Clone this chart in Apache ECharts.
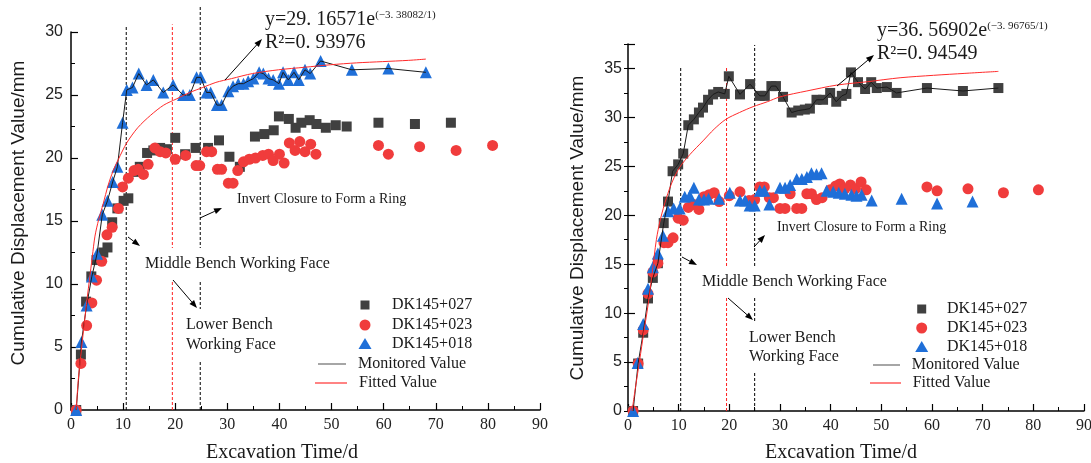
<!DOCTYPE html>
<html>
<head>
<meta charset="utf-8">
<title>Cumulative displacement</title>
<script src="https://cdn.jsdelivr.net/npm/echarts@6/dist/echarts.min.js"></script>
<style>
html, body { margin: 0; padding: 0; background: #fff; }
#chart { width: 1091px; height: 463px; }
</style>
</head>
<body>
<div id="chart"></div>
<script>
// ---- tick labels ----
var xTicks = [0, 10, 20, 30, 40, 50, 60, 70, 80, 90];
var leftYTicks = [0, 5, 10, 15, 20, 25, 30];
var rightYTicks = [0, 5, 10, 15, 20, 25, 30, 35];

// ---- left panel (fit on DK145+018) ----
var leftT027 = [1, 1.9, 2.9, 3.9, 4.9, 6.2, 7.0, 7.9, 8.9, 10.1, 11.0, 12.3, 13.2, 14.6, 15.8, 17.1, 18.4, 20.0, 21.9, 23.9, 26.3, 28.4, 30.4, 32.4, 35.3, 37.1, 38.9, 39.9, 41.8, 43.1, 44.2, 45.8, 47.1, 48.9, 50.8, 52.9, 59.0, 66.0, 72.9];
var leftY027 = [0, 4.4, 8.6, 10.6, 11.9, 12.5, 12.9, 14.9, 16.0, 16.6, 16.8, 18.9, 19.3, 20.4, 20.6, 20.8, 20.7, 21.6, 20.3, 20.8, 20.8, 21.4, 20.1, 19.3, 21.7, 21.9, 22.2, 23.3, 23.1, 22.4, 22.8, 23.0, 22.7, 22.4, 22.6, 22.5, 22.8, 22.7, 22.8];

var leftT023 = [1, 1.9, 3.0, 4.0, 4.9, 5.9, 6.9, 7.9, 9.1, 9.9, 11.0, 12.1, 12.9, 13.9, 14.8, 16.1, 17.1, 18.2, 20.0, 22.0, 24.0, 24.7, 26.0, 27.0, 28.1, 28.9, 30.2, 31.1, 32.0, 33.1, 34.2, 35.4, 36.8, 37.9, 38.8, 40.0, 40.9, 41.9, 43.0, 43.9, 44.9, 46.0, 47.0, 59.0, 60.9, 66.9, 73.9, 80.9];
var leftY023 = [0, 3.7, 6.7, 8.5, 10.3, 11.8, 13.9, 14.5, 16.0, 17.7, 18.4, 19.0, 19.1, 18.7, 19.5, 20.8, 20.5, 20.4, 19.9, 20.2, 19.4, 19.4, 20.5, 20.5, 19.1, 19.1, 18.0, 18.0, 19.0, 19.7, 19.9, 20.0, 20.2, 20.3, 19.8, 20.3, 19.6, 21.2, 20.6, 21.3, 20.5, 21.1, 20.3, 21.0, 20.3, 20.9, 20.6, 21.0];

var leftT018 = [1, 2, 3, 4, 5, 6, 7, 8, 8.9, 9.9, 10.7, 11.8, 13.0, 14.5, 15.8, 17.7, 19.6, 21.5, 22.8, 24.1, 24.9, 26.0, 26.8, 28.0, 28.9, 30.2, 31.1, 32.1, 33.1, 34.0, 35.0, 36.1, 36.9, 37.9, 38.8, 39.9, 40.7, 41.7, 42.8, 43.7, 44.9, 45.9, 47.9, 53.9, 60.9, 68.1];
var leftY018 = [0, 5.4, 8.3, 10.6, 12.4, 15.5, 16.6, 18.1, 19.3, 22.8, 25.4, 25.6, 26.7, 25.8, 26.2, 25.2, 25.8, 25.0, 25.0, 26.4, 26.4, 25.2, 25.2, 24.2, 24.2, 25.3, 25.7, 25.9, 25.9, 26.1, 26.3, 26.8, 26.7, 26.3, 26.2, 25.9, 26.8, 26.2, 26.8, 26.2, 27.0, 26.7, 27.7, 27.0, 27.1, 26.8];

var leftFitT = [1.0, 1.4, 2.0, 2.8, 3.5, 4.1, 4.6, 5.3, 6.2, 7.1, 8.1, 9.1, 10.7, 12.8, 15.3, 17.8, 20.3, 22.8, 25.3, 27.8, 30.8, 34.8, 39.8, 44.8, 49.8, 54.8, 59.8, 64.8, 68.1];
var leftFitY = [0, 2.4, 4.8, 7.8, 10.2, 12.2, 13.8, 15.1, 16.4, 17.8, 19.0, 19.9, 21.2, 22.4, 23.4, 24.2, 24.7, 25.2, 25.6, 26.0, 26.3, 26.7, 27.0, 27.2, 27.4, 27.55, 27.65, 27.75, 27.85];

var leftStages = [10.6, 19.45, 24.8];
var leftStageTops = [30.5, 30.6, 32.1];

// ---- right panel (fit on DK145+027) ----
var rightT027 = [1, 2, 3, 3.95, 4.9, 5.9, 7.05, 7.9, 8.8, 9.9, 10.9, 11.9, 13.0, 14.0, 14.8, 15.8, 16.8, 17.8, 19.1, 19.9, 22.1, 24.1, 26.0, 27.0, 28.3, 29.2, 30.6, 32.3, 33.6, 34.9, 35.9, 37.2, 38.5, 39.9, 41.1, 42.2, 43.1, 44.0, 45.4, 46.8, 48.0, 49.1, 51.1, 53.0, 59.0, 66.1, 73.1];
var rightY027 = [0, 4.85, 8.0, 11.5, 13.6, 15.1, 19.2, 21.4, 24.5, 25.2, 26.3, 29.2, 29.8, 30.5, 31.0, 31.8, 32.35, 32.6, 32.4, 34.2, 32.35, 33.4, 32.2, 32.2, 33.2, 33.2, 32.1, 30.5, 30.7, 30.8, 30.9, 31.8, 31.8, 32.5, 31.6, 32.2, 32.4, 34.6, 33.6, 32.9, 33.6, 33.0, 33.1, 32.5, 33.0, 32.7, 33.0];

var rightT023 = [1, 2, 3, 3.95, 4.9, 5.9, 7.1, 7.9, 8.9, 9.9, 10.9, 11.9, 13.0, 14.0, 15.0, 16.0, 17.0, 18.0, 20.0, 22.1, 23.9, 25.0, 26.0, 26.9, 27.9, 28.7, 30.0, 31.0, 32.0, 33.3, 34.3, 35.3, 36.2, 37.2, 38.3, 39.9, 41.0, 41.8, 42.8, 43.9, 44.9, 46.0, 47.0, 59.0, 61.0, 67.1, 74.1, 81.0];
var rightY023 = [0, 4.85, 8.3, 12.0, 14.2, 15.1, 17.2, 17.2, 17.7, 19.7, 19.5, 20.8, 21.1, 20.6, 21.9, 22.1, 22.3, 21.4, 22.0, 22.4, 21.5, 21.6, 22.9, 22.9, 21.8, 21.8, 20.7, 20.7, 22.2, 20.7, 20.7, 22.2, 22.2, 21.6, 21.8, 22.6, 23.0, 23.2, 22.7, 23.1, 22.7, 23.4, 22.6, 22.9, 22.5, 22.7, 22.3, 22.6];

var rightT018 = [1, 1.9, 3, 3.95, 4.9, 5.9, 6.9, 7.9, 9.0, 10.2, 11.2, 12.2, 13.0, 14.0, 15.0, 15.9, 18.0, 20.1, 22.1, 23.1, 24.0, 25.0, 26.0, 26.9, 27.9, 30.0, 31.0, 32.0, 33.3, 34.3, 35.3, 36.2, 37.2, 38.2, 39.2, 40.5, 41.6, 42.8, 44.1, 45.1, 46.1, 48.1, 54.0, 61.0, 68.0];
var rightY018 = [0, 4.9, 8.9, 12.5, 14.7, 16.1, 17.9, 20.4, 20.7, 20.7, 21.9, 22.0, 22.8, 21.6, 21.6, 21.7, 21.7, 22.3, 21.5, 21.5, 21.0, 21.0, 22.5, 22.5, 21.1, 22.8, 22.8, 23.1, 23.7, 23.7, 23.9, 24.3, 24.2, 24.3, 22.5, 22.4, 22.3, 22.2, 22.1, 22.0, 22.1, 21.5, 21.7, 21.2, 21.4];

var rightFitT = [0.8, 1.5, 2.3, 3.1, 3.95, 4.8, 5.6, 6.4, 7.6, 8.8, 10.2, 12.2, 14.8, 17.0, 19.3, 22.0, 24.7, 27.5, 30.0, 35.3, 41.2, 47.3, 53.7, 60.3, 66.5, 73.1];
var rightFitY = [0, 2.5, 5.2, 8.0, 10.8, 14.2, 17.5, 19.6, 21.8, 23.5, 24.9, 26.2, 27.6, 28.8, 29.8, 30.5, 31.1, 31.6, 32.1, 32.7, 33.3, 33.65, 34.05, 34.3, 34.5, 34.7];

var rightStages = [10.4, 19.45, 25.0];
var rightStageTops = [35.1, 35.1, 37.4];

// ---- styles ----
var sqColor = '#404040';
var dotColor = '#f03c3c';
var triColor = '#1f6fd8';
var serif = 'Liberation Serif';
var sans = 'Liberation Sans';

function pairs(t, y) {
  return t.map(function (v, i) { return [v, y[i]]; });
}

function xAx(grid) {
  return {
    type: 'value', gridIndex: grid, min: xTicks[0], max: xTicks[xTicks.length - 1], interval: 10,
    axisLine: { onZero: false, lineStyle: { color: '#000', width: 1.5 } },
    axisTick: { inside: true, length: 7, lineStyle: { color: '#000', width: 1.2 } },
    minorTick: { show: true, splitNumber: 2, length: 4, lineStyle: { color: '#000', width: 1 } },
    axisLabel: { fontFamily: serif, fontSize: 16, color: '#222', margin: 7 },
    splitLine: { show: false }
  };
}

var yLeft = {
  type: 'value', gridIndex: 0, min: 0, max: leftYTicks[leftYTicks.length - 1], interval: 5,
  axisLine: { show: true, onZero: false, lineStyle: { color: '#000', width: 1.5 } },
  axisTick: { show: true, inside: true, length: 7, lineStyle: { color: '#000', width: 1.2 } },
  minorTick: { show: true, splitNumber: 2, length: 4, lineStyle: { color: '#000', width: 1 } },
  axisLabel: { fontFamily: sans, fontSize: 16, color: '#222', margin: 8 },
  splitLine: { show: false }
};
var yRight = {
  type: 'value', gridIndex: 1, min: 0, max: 37.5, interval: 5,
  axisLine: { show: true, onZero: false, lineStyle: { color: '#000', width: 1.5 } },
  axisTick: { show: true, inside: true, length: 7, lineStyle: { color: '#000', width: 1.2 } },
  axisLabel: {
    fontFamily: sans, fontSize: 16, color: '#222', margin: 6,
    formatter: function (v) { return rightYTicks.indexOf(v) >= 0 ? String(v) : ''; }
  },
  splitLine: { show: false }
};
// minor ticks for the right axis, same scale, no line/labels
var yRightMinor = {
  type: 'value', gridIndex: 1, min: 0, max: 37.5, interval: 2.5,
  axisLine: { show: false },
  axisTick: { show: true, inside: true, length: 4, lineStyle: { color: '#000', width: 1 } },
  axisLabel: { show: false },
  splitLine: { show: false }
};

function scatter(name, xi, yi, data, symbol, size, color) {
  return {
    name: name, type: 'scatter', xAxisIndex: xi, yAxisIndex: yi, data: data,
    symbol: symbol, symbolSize: size, itemStyle: { color: color, opacity: 1 },
    z: 2
  };
}
function line(name, xi, yi, data, color, smooth) {
  return {
    name: name, type: 'line', xAxisIndex: xi, yAxisIndex: yi, data: data,
    showSymbol: false, symbol: 'none', smooth: smooth, silent: true,
    lineStyle: { color: color, width: 1 }, z: 4
  };
}

var chart = echarts.init(document.getElementById('chart'));
chart.setOption({
  backgroundColor: '#fff',
  animation: false,
  grid: [
    { left: 71, top: 32, width: 469, height: 378, outerBoundsMode: 'none' },
    { left: 628, top: 44, width: 456, height: 367, outerBoundsMode: 'none' }
  ],
  xAxis: [xAx(0), xAx(1)],
  yAxis: [yLeft, yRight, yRightMinor],
  series: [
    scatter('DK145+027', 0, 0, pairs(leftT027, leftY027), 'rect', 10, sqColor),
    scatter('DK145+023', 0, 0, pairs(leftT023, leftY023), 'circle', 11, dotColor),
    scatter('DK145+018', 0, 0, pairs(leftT018, leftY018), 'triangle', 12, triColor),
    line('Monitored Value', 0, 0, pairs(leftT018, leftY018), '#1a1a1a', false),
    line('Fitted Value', 0, 0, pairs(leftFitT, leftFitY), '#ff2a2a', 0.3),

    scatter('DK145+027', 1, 1, pairs(rightT027, rightY027), 'rect', 10, sqColor),
    scatter('DK145+023', 1, 1, pairs(rightT023, rightY023), 'circle', 11, dotColor),
    scatter('DK145+018', 1, 1, pairs(rightT018, rightY018), 'triangle', 12, triColor),
    line('Monitored Value', 1, 1, pairs(rightT027, rightY027), '#1a1a1a', false),
    line('Fitted Value', 1, 1, pairs(rightFitT, rightFitY), '#ff2a2a', 0.3)
  ]
});

// ---- annotations ----
function arrow(x1, y1, x2, y2) {
  var a = Math.atan2(y2 - y1, x2 - x1), L = 8, W = 3;
  var bx = x2 - L * Math.cos(a), by = y2 - L * Math.sin(a);
  var px = -Math.sin(a) * W, py = Math.cos(a) * W;
  return [
    { type: 'line', z: 6, shape: { x1: x1, y1: y1, x2: bx, y2: by }, style: { stroke: '#000', lineWidth: 1 } },
    { type: 'polygon', z: 6, shape: { points: [[x2, y2], [bx + px, by + py], [bx - px, by - py]] }, style: { fill: '#000' } }
  ];
}
function label(x, y, text, size, bg, pad, lh) {
  return {
    type: 'text', z: 5, x: x, y: y,
    style: {
      text: text, fontFamily: serif, fontSize: size, fill: '#1a1a1a',
      verticalAlign: 'middle', align: 'left', lineHeight: lh || size + 2,
      backgroundColor: bg ? '#fff' : null, padding: pad || 0
    }
  };
}
function equation(x, y, main, sup, r2) {
  return [
    {
      type: 'text', z: 5, x: x, y: y,
      style: {
        text: '{m|' + main + '}{s|' + sup + '}', verticalAlign: 'middle', align: 'left',
        rich: {
          m: { fontFamily: serif, fontSize: 20, fill: '#1a1a1a' },
          s: { fontFamily: serif, fontSize: 11, fill: '#1a1a1a', verticalAlign: 'top' }
        }
      }
    },
    { type: 'text', z: 5, x: x, y: y + 23, style: { text: r2, fontFamily: serif, fontSize: 20, fill: '#1a1a1a', verticalAlign: 'middle' } }
  ];
}
function legend(sx, tx, ys, lx1, lx2, ltx, ly1, ly2) {
  var s = 4.5;
  return [
    { type: 'rect', z: 5, shape: { x: sx - s, y: ys[0] - s, width: 9, height: 9 }, style: { fill: sqColor } },
    { type: 'circle', z: 5, shape: { cx: sx, cy: ys[1], r: 5.5 }, style: { fill: dotColor } },
    { type: 'polygon', z: 5, shape: { points: [[sx, ys[2] - 6], [sx + 6.5, ys[2] + 5], [sx - 6.5, ys[2] + 5]] }, style: { fill: triColor } },
    label(tx, ys[0], 'DK145+027', 16),
    label(tx, ys[1], 'DK145+023', 16),
    label(tx, ys[2], 'DK145+018', 16),
    { type: 'line', z: 5, shape: { x1: lx1, y1: ly1, x2: lx2, y2: ly1 }, style: { stroke: '#888', lineWidth: 1.5 } },
    label(ltx, ly1, 'Monitored Value', 16),
    { type: 'line', z: 5, shape: { x1: lx1 - 3, y1: ly2, x2: lx2 + 1, y2: ly2 }, style: { stroke: '#ff5a5a', lineWidth: 1.5 } },
    label(ltx + 1, ly2, 'Fitted Value', 16)
  ];
}
function stageLines(xi, yi, xs, tops, colors) {
  return xs.map(function (v, i) {
    var p0 = chart.convertToPixel({ xAxisIndex: xi, yAxisIndex: yi }, [v, 0]);
    var p1 = chart.convertToPixel({ xAxisIndex: xi, yAxisIndex: yi }, [v, tops[i]]);
    return {
      type: 'line', z: 1, shape: { x1: p0[0], y1: p0[1], x2: p1[0], y2: p1[1] },
      style: { stroke: colors[i], lineWidth: 1, lineDash: [3, 2] }
    };
  });
}

var stageColors = ['#000', '#ff2020', '#000'];
var g = [];
g = g.concat(stageLines(0, 0, leftStages, leftStageTops, stageColors));
g = g.concat(stageLines(1, 1, rightStages, rightStageTops, stageColors));

// axis titles
g.push({ type: 'text', z: 5, x: 19, y: 213, rotation: Math.PI / 2,
  style: { text: 'Cumulative Displacement Value/mm', fontFamily: sans, fontSize: 19, fill: '#1a1a1a', align: 'center', verticalAlign: 'middle' } });
g.push({ type: 'text', z: 5, x: 578, y: 228, rotation: Math.PI / 2,
  style: { text: 'Cumulative Displacement Value/mm', fontFamily: sans, fontSize: 19, fill: '#1a1a1a', align: 'center', verticalAlign: 'middle' } });
g.push({ type: 'text', z: 5, x: 282, y: 453,
  style: { text: 'Excavation Time/d', fontFamily: serif, fontSize: 20, fill: '#1a1a1a', align: 'center', verticalAlign: 'middle' } });
g.push({ type: 'text', z: 5, x: 841, y: 453,
  style: { text: 'Excavation Time/d', fontFamily: serif, fontSize: 20, fill: '#1a1a1a', align: 'center', verticalAlign: 'middle' } });

// left panel notes
g = g.concat(equation(265, 20, 'y=29. 16571e', '(\u22123. 38082/1)', 'R\u00b2=0. 93976'));
g.push(label(237, 199, 'Invert Closure to Form a Ring', 14));
g.push(label(141, 264, 'Middle Bench Working Face', 16, true, [7, 4]));
g.push(label(182, 335, 'Lower Bench\nWorking Face', 16, true, [6, 4], 20));
g = g.concat(arrow(225, 80, 262, 39), arrow(200, 218, 222, 208), arrow(128, 237, 140, 246), arrow(173, 280, 197, 308));
g = g.concat(legend(365, 392, [305, 325, 344], 318, 346, 358, 364, 383));

// right panel notes
g = g.concat(equation(877, 31, 'y=36. 56902e', '(\u22123. 96765/1)', 'R\u00b2=0. 94549'));
g.push(label(777, 227, 'Invert Closure to Form a Ring', 14));
g.push(label(698, 282, 'Middle Bench Working Face', 16, true, [6, 4]));
g.push(label(745, 347, 'Lower Bench\nWorking Face', 16, true, [6, 4], 19));
g = g.concat(arrow(837, 86, 874, 55), arrow(754, 247, 765, 235), arrow(682, 257, 697, 265), arrow(728, 298, 753, 320));
g = g.concat(legend(921.7, 947, [309, 328, 347], 873, 900, 911.7, 365, 383));

chart.setOption({ graphic: { elements: g } });
</script>
</body>
</html>
